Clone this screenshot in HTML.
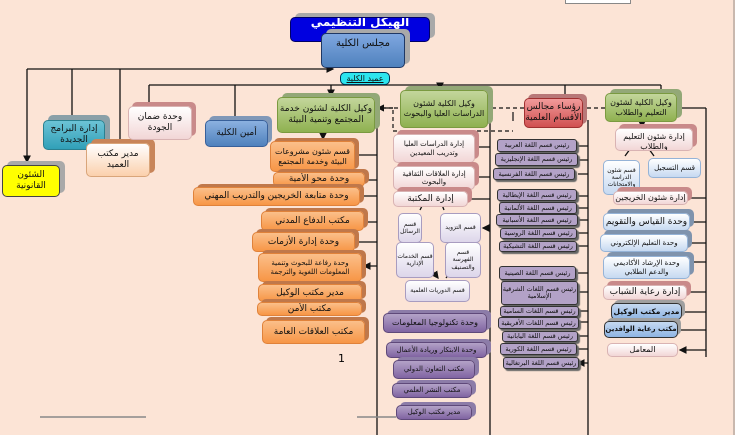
<!DOCTYPE html>
<html><head><meta charset="utf-8"><style>
body{margin:0;width:735px;height:435px;background:#fce4d6;position:relative;overflow:hidden;font-family:"DejaVu Sans","Liberation Sans",sans-serif}
.b{position:absolute;display:flex;align-items:center;justify-content:center;text-align:center;border-radius:5px;line-height:1.2;direction:rtl;box-sizing:border-box;color:#111;overflow:hidden}
.sh{box-shadow:5px -4px 0 #a9a9a9}
.or{background:linear-gradient(#fbbf8a,#f79646);border:1px solid #e0823a;box-shadow:4px -3px 0 #c0784a;font-size:9px;padding:0 2px}
.pk{background:linear-gradient(#fff,#f2d6d6);border:1px solid #d9b3b3;box-shadow:4px -4px 0 #c98a8a;font-size:8px}
.lv{background:linear-gradient(#fff,#ddd6ea);border:1px solid #a89cc0;font-size:6px}
.pu{background:linear-gradient(#b3a2c7,#8064a2);border:1px solid #5f497a;box-shadow:4px -3px 0 #8c7ca8;font-size:8px}
.lg{background:#b3a2c7;border:1.5px solid #333;font-size:6.5px;border-radius:3px;box-shadow:2px 2px 1px #666;line-height:1.05;white-space:nowrap}
.lg2{white-space:normal}
.gr{background:linear-gradient(#c3d69b,#8fb150);border:1px solid #7a9a40;box-shadow:5px -4px 0 #93a877;font-size:9px}
.lb{background:linear-gradient(#fff,#c6d9f1);border:1px solid #95b3d7;box-shadow:4px -4px 0 #7f93ad;font-size:8px}
.db{background:linear-gradient(#c6d9f1,#8eb4e3);border:1.5px solid #333;font-size:7.5px;font-weight:bold;box-shadow:3px -3px 0 #a0a0a0;white-space:nowrap}
svg{position:absolute;left:0;top:0}
</style></head><body>
<div style="position:absolute;left:733px;top:0;width:2px;height:435px;background:#c9b8ae"></div>
<div style="position:absolute;left:565px;top:0;width:64px;height:3px;border:1px solid #888;border-top:none;background:#fff"></div>
<svg width="735" height="435">
<defs><marker id="a" markerWidth="6" markerHeight="6" refX="5" refY="3" orient="auto"><path d="M0,0L6,3L0,6z" fill="#111"/></marker></defs>
<g stroke="#111" stroke-width="1.3" fill="none">
<path d="M27,69H333" marker-end="url(#a)"/>
<path d="M27,69V162" marker-end="url(#a)"/>
<path d="M72,69V122M120,69V146"/>
<path d="M149,85H661M149,85V104M235,85V121"/>
<path d="M331,85V96" marker-end="url(#a)"/>
<path d="M440,85V89" marker-end="url(#a)"/>
<path d="M565,85V97M661,85V92"/>
<path d="M323,133V139" marker-end="url(#a)"/>
<path d="M642,122V127" marker-end="url(#a)"/>
<path d="M377,118V435"/>
<path d="M377,155H357M377,180H367M377,196H362M377,222H366M377,242H357M377,266H364" marker-end="url(#a)"/>
<path d="M490,115V435"/>
<path d="M490,147H477M490,177H477M490,199H470M490,228H483" marker-end="url(#a)"/>
<path d="M588,120V435"/>
<path d="M588,146H578M588,160H578M588,174H578M588,196H578M588,208H578M588,220H578M588,233H578M588,246H578M588,273H578M588,292H578M588,311H578M588,322H578M588,336H578M588,349H578M588,363H578" marker-end="url(#a)"/>
<path d="M706,108V357"/>
<path d="M706,108H680M706,198H690M706,222H692M706,243H690M706,262H692M706,292H689M706,312H684M706,330H680M706,350H680" marker-end="url(#a)"/>
<path d="M633,145L625,156M646,145L654,156M413,242V251M441,202L444,210M424,202L420,210M452,270L446,278M432,270L438,278" marker-end="url(#a)"/>
</g>
<g stroke="#111" stroke-width="1.2" fill="none" stroke-dasharray="4,3">
<path d="M605,108H585M524,108H393V131H513M393,108H380"/>
</g>
<g stroke="#111" stroke-width="1.2" fill="none"><path d="M513,112V121M393,108H378" marker-end="url(#a)"/></g>
<path d="M40,417H146M357,417H396" stroke="#888" stroke-width="1.5"/>
</svg>

<div class="b sh" style="left:290px;top:17px;width:140px;height:25px;background:#0000e0;border:1px solid #000066;color:#fff;font-size:12px;font-weight:bold">الهيكل التنظيمي الأكاديمي</div>
<div class="b sh" style="left:321px;top:33px;width:84px;height:35px;background:linear-gradient(#7fa7e0,#4f81bd);border:1px solid #1f3864;font-size:10px;align-items:flex-start;padding-top:4px">مجلس الكلية</div>
<div class="b" style="left:340px;top:72px;width:50px;height:13px;background:#2ee5ee;border:1px solid #035;font-size:8px;text-decoration:underline">عميد الكلية</div>

<div class="b sh" style="left:2px;top:165px;width:58px;height:32px;background:#ffff00;border:1px solid #444;font-size:9px">الشئون القانونية</div>
<div class="b" style="left:43px;top:120px;width:62px;height:30px;background:linear-gradient(#6cc3d6,#31a0b8);border:1px solid #2a8090;box-shadow:5px -5px 0 #8aa0a8;font-size:9px">إدارة البرامج الجديدة</div>
<div class="b" style="left:86px;top:143px;width:64px;height:34px;background:linear-gradient(#fff,#fbd0ac);border:1px solid #d9a57a;box-shadow:5px -4px 0 #c8855a;font-size:9px">مدير مكتب العميد</div>
<div class="b pk" style="left:128px;top:106px;width:64px;height:34px;font-size:9px">وحدة ضمان الجودة</div>
<div class="b" style="left:205px;top:120px;width:63px;height:27px;background:linear-gradient(#8bb1e0,#4f81bd);border:1px solid #38609a;box-shadow:4px -4px 0 #8098b8;font-size:9px">أمين الكلية</div>
<div class="b gr" style="left:277px;top:97px;width:98px;height:36px">وكيل الكلية لشئون خدمة المجتمع وتنمية البيئة</div>

<div class="b or" style="left:270px;top:141px;width:85px;height:31px;font-size:8px">قسم شئون مشروعات البيئة وخدمة المجتمع</div>
<div class="b or" style="left:273px;top:172px;width:92px;height:15px">وحدة محو الأمية</div>
<div class="b or" style="left:193px;top:187px;width:167px;height:19px">وحدة متابعة الخريجين والتدريب المهني</div>
<div class="b or" style="left:261px;top:211px;width:103px;height:20px">مكتب الدفاع المدني</div>
<div class="b or" style="left:252px;top:232px;width:103px;height:20px">وحدة إدارة الأزمات</div>
<div class="b or" style="left:258px;top:253px;width:104px;height:29px;font-size:7px">وحدة رفاعة للبحوث وتنمية المعلومات اللغوية والترجمة</div>
<div class="b or" style="left:258px;top:284px;width:104px;height:18px">مدير مكتب الوكيل</div>
<div class="b or" style="left:257px;top:302px;width:105px;height:14px">مكتب الأمن</div>
<div class="b or" style="left:262px;top:320px;width:103px;height:24px">مكتب العلاقات العامة</div>
<div style="position:absolute;left:338px;top:352px;font-size:11px">1</div>

<div class="b gr" style="left:400px;top:90px;width:88px;height:38px;font-size:8px">وكيل الكلية لشئون الدراسات العليا والبحوث</div>
<div class="b" style="left:524px;top:98px;width:59px;height:30px;background:linear-gradient(#f19a9a,#d05050);border:1px solid #a03030;box-shadow:4px -4px 0 #b87878;font-size:9px">رؤساء مجالس الأقسام العلمية</div>
<div class="b gr" style="left:605px;top:93px;width:72px;height:29px;font-size:8px">وكيل الكلية لشئون التعليم والطلاب</div>

<div class="b pk" style="left:393px;top:134px;width:82px;height:29px;font-size:7px">إدارة الدراسات العليا وتدريب المعيدين</div>
<div class="b pk" style="left:393px;top:166px;width:82px;height:24px;font-size:7px">إدارة العلاقات الثقافية والبحوث</div>
<div class="b pk" style="left:393px;top:191px;width:75px;height:16px;font-size:9px">إدارة المكتبة</div>
<div class="b lv" style="left:398px;top:213px;width:24px;height:30px">قسم الرسائل</div>
<div class="b lv" style="left:440px;top:213px;width:41px;height:30px">قسم التزويد</div>
<div class="b lv" style="left:396px;top:242px;width:38px;height:36px">قسم الخدمات الإدارية</div>
<div class="b lv" style="left:445px;top:242px;width:36px;height:36px">قسم الفهرسة والتصنيف</div>
<div class="b lv" style="left:405px;top:280px;width:65px;height:22px">قسم الدوريات العلمية</div>

<div class="b pu" style="left:383px;top:313px;width:104px;height:20px">وحدة تكنولوجيا المعلومات</div>
<div class="b pu" style="left:386px;top:342px;width:101px;height:16px;font-size:7px">وحدة الابتكار وريادة الأعمال</div>
<div class="b pu" style="left:393px;top:360px;width:82px;height:19px;font-size:7px">مكتب التعاون الدولي</div>
<div class="b pu" style="left:392px;top:383px;width:80px;height:15px;font-size:7px">مكتب النشر العلمي</div>
<div class="b pu" style="left:396px;top:405px;width:76px;height:15px;font-size:7px">مدير مكتب الوكيل</div>

<div class="b lg" style="left:497px;top:139px;width:80px;height:13px">رئيس قسم اللغة العربية</div>
<div class="b lg" style="left:495px;top:153px;width:83px;height:13px">رئيس قسم اللغة الإنجليزية</div>
<div class="b lg" style="left:493px;top:168px;width:82px;height:12px">رئيس قسم اللغة الفرنسية</div>
<div class="b lg" style="left:497px;top:189px;width:80px;height:12px">رئيس قسم اللغة الإيطالية</div>
<div class="b lg" style="left:499px;top:202px;width:78px;height:12px">رئيس قسم اللغة الألمانية</div>
<div class="b lg" style="left:496px;top:214px;width:82px;height:12px">رئيس قسم اللغة الأسبانية</div>
<div class="b lg" style="left:500px;top:228px;width:77px;height:11px">رئيس قسم اللغة الروسية</div>
<div class="b lg" style="left:499px;top:241px;width:78px;height:11px">رئيس قسم اللغة التشيكية</div>
<div class="b lg" style="left:499px;top:266px;width:77px;height:14px">رئيس قسم اللغة الصينية</div>
<div class="b lg lg2" style="left:501px;top:281px;width:77px;height:24px">رئيس قسم اللغات الشرقية الإسلامية</div>
<div class="b lg" style="left:500px;top:306px;width:79px;height:11px">رئيس قسم اللغات السامية</div>
<div class="b lg" style="left:498px;top:317px;width:81px;height:12px">رئيس قسم اللغات الأفريقية</div>
<div class="b lg" style="left:502px;top:331px;width:76px;height:11px">رئيس قسم اللغة اليابانية</div>
<div class="b lg" style="left:500px;top:343px;width:77px;height:12px">رئيس قسم اللغة الكورية</div>
<div class="b lg" style="left:503px;top:357px;width:76px;height:12px">رئيس قسم اللغة البرتغالية</div>

<div class="b pk" style="left:615px;top:128px;width:78px;height:23px;font-size:8px;align-items:flex-start;padding-top:3px">إدارة شئون التعليم والطلاب</div>
<div class="b lb" style="left:603px;top:160px;width:37px;height:35px;font-size:6px;box-shadow:none">قسم شئون الدراسة والامتحانات</div>
<div class="b lb" style="left:648px;top:158px;width:53px;height:20px;font-size:7px;box-shadow:none">قسم التسجيل</div>
<div class="b pk" style="left:613px;top:191px;width:75px;height:14px;font-size:8px">إدارة شئون الخريجين</div>
<div class="b lb" style="left:603px;top:213px;width:87px;height:18px;font-size:9px">وحدة القياس والتقويم</div>
<div class="b lb" style="left:600px;top:234px;width:88px;height:18px;font-size:7px">وحدة التعليم الإلكتروني</div>
<div class="b lb" style="left:603px;top:256px;width:87px;height:23px;font-size:7px">وحدة الإرشاد الأكاديمي والدعم الطلابي</div>
<div class="b pk" style="left:603px;top:285px;width:84px;height:15px;font-size:9px">إدارة رعاية الشباب</div>
<div class="b db" style="left:611px;top:303px;width:71px;height:17px">مدير مكتب الوكيل</div>
<div class="b db" style="left:604px;top:321px;width:74px;height:17px;font-size:7px">مكتب رعاية الوافدين</div>
<div class="b pk" style="left:607px;top:343px;width:71px;height:14px;font-size:8px;box-shadow:none">المعامل</div>
</body></html>
